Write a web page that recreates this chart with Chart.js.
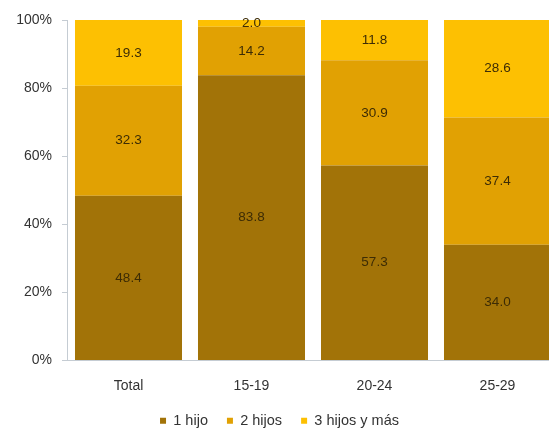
<!DOCTYPE html>
<html>
<head>
<meta charset="utf-8">
<script src="https://cdn.jsdelivr.net/npm/chart.js@4/dist/chart.umd.min.js"></script>
<style>
html,body{margin:0;padding:0;background:#fff;overflow:hidden;}
#wrap{width:562px;height:429px;position:relative;}
</style>
</head>
<body>
<div id="wrap"><canvas id="c"></canvas></div>
<script>
const categories = ["Total", "15-19", "20-24", "25-29"];
const seriesNames = ["1 hijo", "2 hijos", "3 hijos y más"];
const unHijo = [48.4, 83.8, 57.3, 34.0];
const dosHijos = [32.3, 14.2, 30.9, 37.4];
const tresHijos = [19.3, 2.0, 11.8, 28.6];
const yTicks = [0, 20, 40, 60, 80, 100];
const colors = ["#A27308", "#E1A103", "#FDC002"];
const FONT = '"Liberation Sans", Arial, sans-serif';

const labelPlugin = {
  id: 'segLabels',
  afterDatasetsDraw(chart) {
    const ctx = chart.ctx;
    ctx.save();
    ctx.font = '13.5px ' + FONT;
    ctx.fillStyle = '#3d2c05';
    ctx.textAlign = 'center';
    ctx.textBaseline = 'middle';
    chart.data.datasets.forEach((ds, i) => {
      const meta = chart.getDatasetMeta(i);
      meta.data.forEach((el, j) => {
        const v = ds.data[j];
        const cy = (el.y + el.base) / 2;
        ctx.fillText(v.toFixed(1), el.x, cy);
      });
    });
    ctx.restore();
  }
};

new Chart(document.getElementById('c'), {
  type: 'bar',
  data: {
    labels: categories,
    datasets: [
      { label: seriesNames[0], data: unHijo, backgroundColor: colors[0] },
      { label: seriesNames[1], data: dosHijos, backgroundColor: colors[1] },
      { label: seriesNames[2], data: tresHijos, backgroundColor: colors[2] }
    ]
  },
  options: {
    responsive: true,
    maintainAspectRatio: false,
    animation: false,
    datasets: { bar: { categoryPercentage: 1.0, barPercentage: 0.87 } },
    layout: { padding: { top: 20, right: 3, left: 0, bottom: -9 } },
    plugins: {
      legend: {
        position: 'bottom',
        labels: {
          boxWidth: 6, boxHeight: 6, padding: 19,
          color: '#333',
          font: { family: FONT, size: 14.5 }
        }
      },
      tooltip: { enabled: false }
    },
    scales: {
      x: {
        stacked: true,
        grid: { display: false, drawTicks: false },
        border: { color: '#c5ccd3', width: 1 },
        ticks: {
          padding: 17,
          color: '#333',
          font: { family: FONT, size: 14 }
        },
        afterFit(s) { s.height = 34; }
      },
      y: {
        stacked: true,
        min: 0, max: 100,
        afterBuildTicks(s) { s.ticks = yTicks.map(v => ({ value: v })); },
        grid: { drawOnChartArea: false, drawTicks: true, tickLength: 5, color: '#c5ccd3' },
        border: { color: '#c5ccd3', width: 1 },
        ticks: {
          padding: 10,
          color: '#333',
          font: { family: FONT, size: 14 },
          callback: v => v + '%'
        },
        afterFit(s) { s.width = 67; }
      }
    }
  },
  plugins: [labelPlugin]
});
</script>
</body>
</html>
